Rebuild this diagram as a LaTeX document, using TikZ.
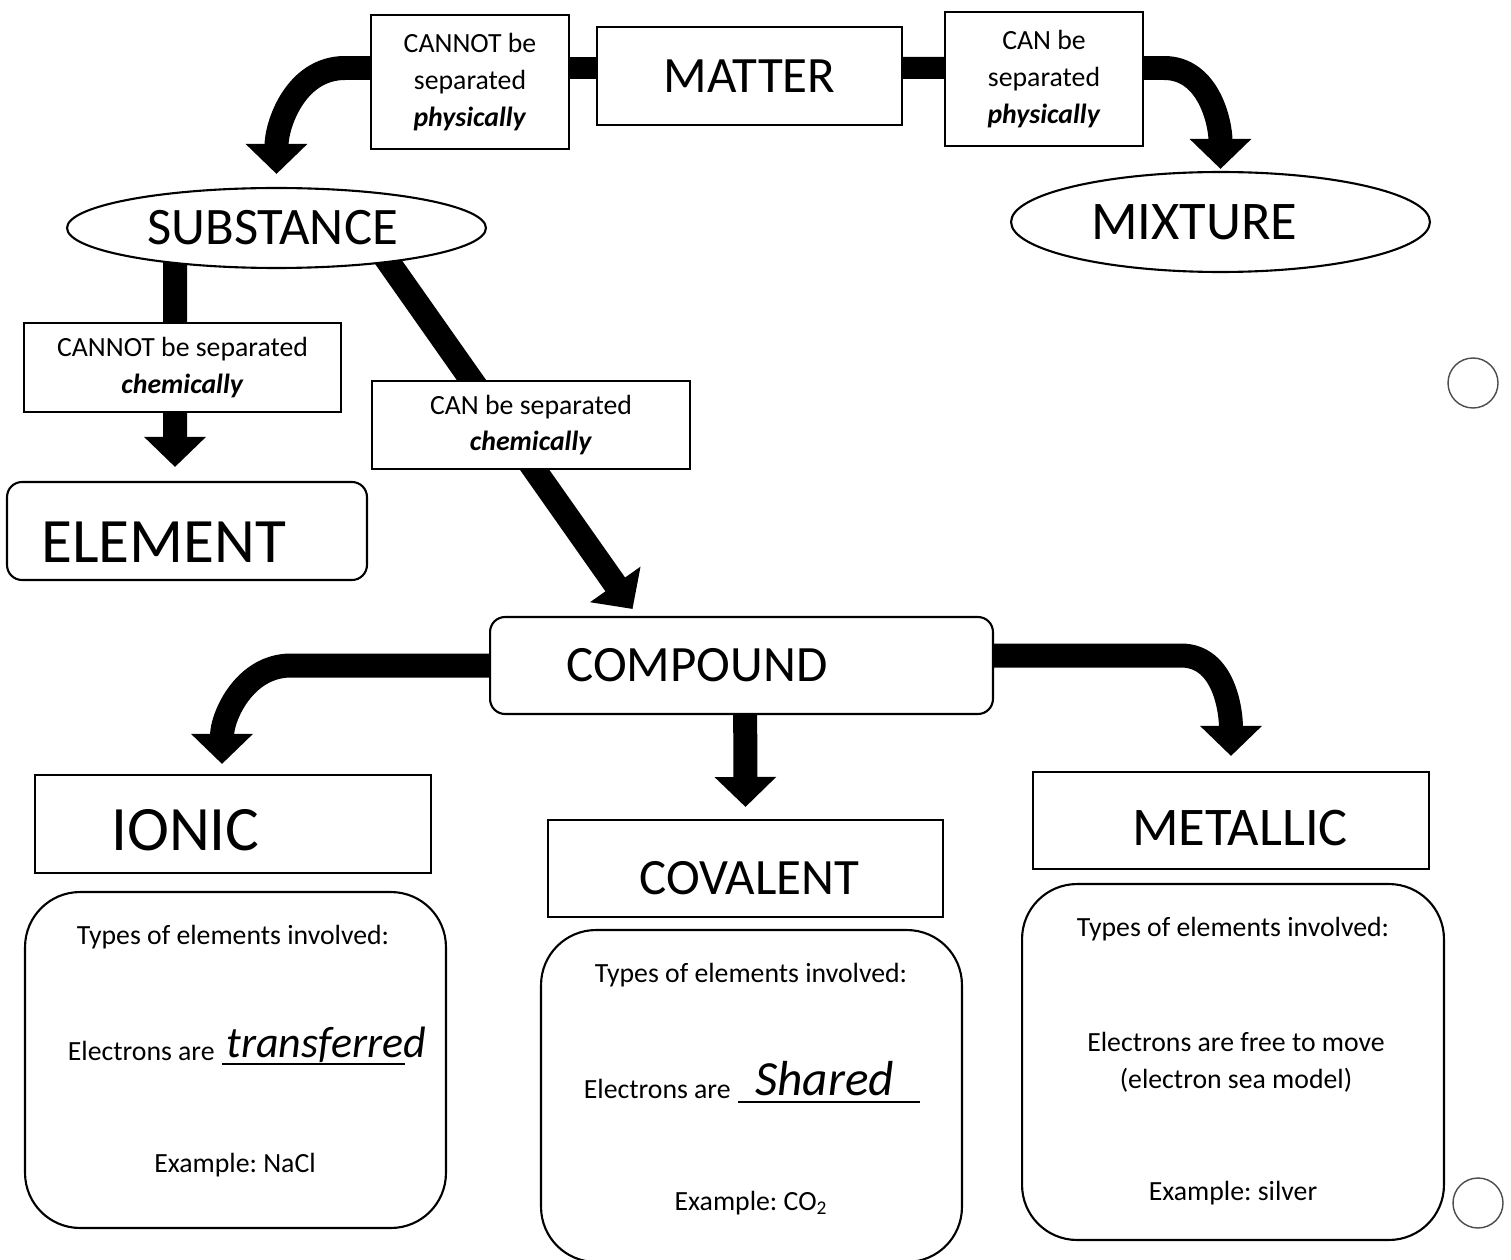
\documentclass[tikz,border=0pt]{standalone}
\usepackage{fontspec}
\setmainfont{Carlito}
\frenchspacing
\usetikzlibrary{positioning,arrows.meta,calc,shapes.geometric}
\pgfdeclarelayer{background}
\pgfsetlayers{background,main}

\begin{document}
\begin{tikzpicture}[
  x=0.02cm, y=0.02cm,
  font=\fontsize{15.8}{21}\selectfont,
  box/.style={draw, line width=1.2pt, fill=white, inner sep=0pt, align=center},
  rbox/.style={box, rounded corners=0.3cm},
  info/.style={box, rounded corners=1.1cm},
  bubble/.style={box, ellipse},
  txt/.style={inner sep=0pt, align=center},
  hand/.style={font=\fontsize{#1}{#1}\selectfont, inner sep=0pt},
  ans/.style={font=\itshape\fontsize{#1}{#1}\selectfont, inner sep=0pt},
  link/.style={line width=0.44cm},
  bar/.style={line width=0.48cm, -{Triangle[width=1.2cm, length=0.6cm]}},
  hole/.style={draw=black!70, line width=0.8pt},
]
\useasboundingbox (0,0) rectangle (1511,-1260);

% ---------- Matter ----------
\node[box, minimum width=6.1cm, minimum height=1.96cm, font=\fontsize{29}{30}\selectfont] (matter) at (749.5,-76) {MATTER};
\node[box, minimum width=3.96cm, minimum height=2.68cm] (cannotphys) at (470,-82)
  {CANNOT be\\ separated\\ \textbf{\textit{physically}}};
\node[box, minimum width=3.96cm, minimum height=2.68cm] (canphys) at (1044,-79)
  {CAN be\\ separated\\ \textbf{\textit{physically}}};

\node[bubble, minimum width=8.38cm, minimum height=1.6cm] (substance) at (276.5,-228) {};
\node[hand=30, right=1.62cm of substance.west] (substancetxt) {SUBSTANCE};
\node[bubble, minimum width=8.38cm, minimum height=2cm] (mixture) at (1220.5,-222) {};
\node[hand=31, right=1.62cm of mixture.west] (mixturetxt) {MIXTURE};

% ---------- Substance ----------
\node[box, minimum width=6.34cm, minimum height=1.78cm] (cannotchem) at (182.5,-367.5)
  {CANNOT be separated\\ \textbf{\textit{chemically}}};
\node[box, minimum width=6.36cm, minimum height=1.76cm] (canchem) at (531,-425)
  {CAN be separated\\ \textbf{\textit{chemically}}};
\node[rbox, minimum width=7.2cm, minimum height=1.96cm] (element) at (187,-531) {};
\node[hand=36, right=0.7cm of element.west, yshift=-0.22cm] (elementtxt) {ELEMENT};

% ---------- Compound ----------
\node[rbox, minimum width=10.06cm, minimum height=1.94cm] (compound) at (741.5,-665.5) {};
\node[hand=29, right=1.54cm of compound.west] (compoundtxt) {COMPOUND};

\node[box, minimum width=7.92cm, minimum height=1.96cm] (ionic) at (233,-824) {};
\node[hand=36, right=1.54cm of ionic.west, yshift=-0.12cm] (ionictxt) {IONIC};
\node[box, minimum width=7.9cm, minimum height=1.94cm] (covalent) at (745.5,-868.5) {};
\node[hand=29, right=1.84cm of covalent.west, yshift=-0.2cm] (covalenttxt) {COVALENT};
\node[box, minimum width=7.92cm, minimum height=1.94cm] (metallic) at (1231,-820.5) {};
\node[hand=31, right=2cm of metallic.west, yshift=-0.15cm] (metallictxt) {METALLIC};

% ---------- Bond boxes ----------
\node[info, minimum width=8.42cm, minimum height=6.72cm] (ionicinfo) at (235.5,-1060) {};
\node[txt] (ionictypes) at (233,-937) {Types of elements involved:};
\node[txt, anchor=base east] (ionicare) at (215,-1060) {Electrons are};
\node[ans=25, anchor=base west] (ionicans) at (226,-1057) {transferred};
\draw[line width=1.2pt] (222,-1064) -- (405,-1064);
\node[txt] (ionicex) at (235,-1165) {Example: NaCl};

\node[info, minimum width=8.42cm, minimum height=6.64cm] (covalentinfo) at (751.5,-1096) {};
\node[txt] (covtypes) at (751,-975) {Types of elements involved:};
\node[txt, anchor=base east] (covare) at (731,-1098) {Electrons are};
\node[ans=28, anchor=base west] (covans) at (755,-1095) {Shared};
\draw[line width=1.2pt] (738,-1102) -- (920,-1102);
\node[txt] (covex) at (751,-1203) {Example: CO\textsubscript{2}};

\node[info, minimum width=8.44cm, minimum height=7.12cm] (metallicinfo) at (1233,-1062) {};
\node[txt] (mettypes) at (1233,-929) {Types of elements involved:};
\node[txt] (metfree) at (1236,-1062) {Electrons are free to move\\ (electron sea model)};
\node[txt] (metex) at (1233,-1193) {Example: silver};

% punch holes
\draw[hole] (1473,-383) circle[radius=0.5cm];
\draw[hole] (1478,-1203) circle[radius=0.5cm];

% ---------- Arrows ----------
\begin{pgfonlayer}{background}
\fill[white] (0,0) rectangle (1511,-1260);
\draw[link] ([yshift=0.28cm]cannotphys.center) -- ([yshift=0.22cm]canphys.center);
\draw[bar] ([yshift=0.28cm]cannotphys.west) -- ++(-25,0) to[out=180,in=90] ([yshift=0.26cm]substance.north);
\draw[bar] ([yshift=0.22cm]canphys.east) -- ++(20,0) to[out=0,in=90] ([yshift=0.04cm]mixture.north);
\draw[bar] ([xshift=-2.03cm]substance.center) -- ([xshift=-0.24cm,yshift=0.28cm]element.north);
\draw[bar] ([xshift=1.76cm]substance.center) -- ([xshift=-2.18cm,yshift=0.14cm]compound.north);
\draw[bar] (compound.center) -- ([xshift=-3.96cm]compound.west) to[out=180,in=90] ([xshift=-0.22cm,yshift=0.2cm]ionic.north);
\draw[bar] ([xshift=0.07cm]compound.center) -- ([yshift=0.24cm]covalent.north);
\draw[bar] ([yshift=0.2cm]compound.center) -- ([xshift=3.74cm,yshift=0.2cm]compound.east) to[out=0,in=90] ([yshift=0.3cm]metallic.north);
\end{pgfonlayer}

\end{tikzpicture}
\end{document}
